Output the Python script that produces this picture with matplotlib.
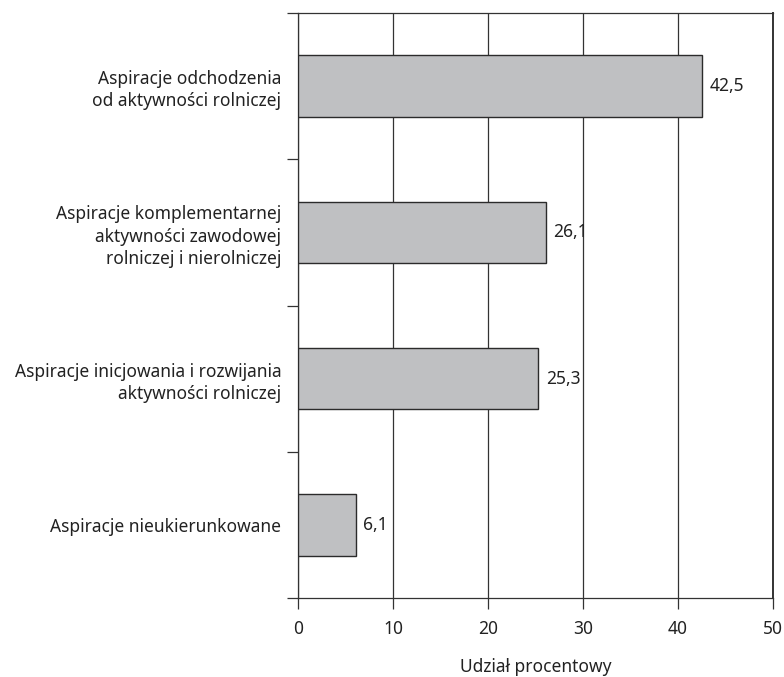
import matplotlib
matplotlib.use("Agg")
import matplotlib.pyplot as plt
import numpy as np

plt.rcParams["font.family"] = ["Noto Sans", "DejaVu Sans"]

CATEGORIES = [
    "Aspiracje odchodzenia\nod aktywności rolniczej",
    "Aspiracje komplementarnej\naktywności zawodowej\nrolniczej i nierolniczej",
    "Aspiracje inicjowania i rozwijania\naktywności rolniczej",
    "Aspiracje nieukierunkowane",
]
VALUES = [42.5, 26.1, 25.3, 6.1]
X_TICKS = [0, 10, 20, 30, 40, 50]
X_LABEL = "Udział procentowy"

BAR_COLOR = "#bfc0c2"
EDGE = "#2b2b2b"
FS = 12.5

fig = plt.figure(figsize=(7.84, 6.77), dpi=100)
ax = fig.add_axes([0.380, 0.1167, 0.606, 0.864])

pos = np.arange(len(CATEGORIES))
ax.barh(pos, VALUES, height=0.42, color=BAR_COLOR, edgecolor=EDGE, linewidth=1.0, zorder=3)

for p, v in zip(pos, VALUES):
    ax.text(v + 0.8, p, f"{v:.1f}".replace(".", ","), va="center", ha="left",
            fontsize=FS, color="#222222", zorder=4)

ax.set_xlim(0, 50)
ax.set_ylim(len(CATEGORIES) - 0.5, -0.5)
ax.set_xticks(X_TICKS)
ax.set_xticklabels([str(t) for t in X_TICKS], fontsize=FS, color="#222222")
ax.grid(axis="x", color="#333333", linewidth=0.9, zorder=0)

ax.set_yticks(np.arange(-0.5, len(CATEGORIES), 1.0))
ax.set_yticklabels([])
ax.set_yticks(pos, minor=True)
ax.set_yticklabels(CATEGORIES, minor=True, fontsize=FS, color="#222222",
                   linespacing=1.3, ha="right")
ax.tick_params(axis="y", which="minor", length=0, pad=12)
ax.tick_params(axis="y", which="major", length=8, width=0.9, color="#333333")
ax.tick_params(axis="x", length=8, width=0.9, color="#333333", pad=8)

for s in ax.spines.values():
    s.set_color("#333333")
    s.set_linewidth(0.9)
ax.spines["right"].set_linewidth(1.4)

# axis title sits well below the tick labels, as in the reference
fig.text(0.683, 1 - 667 / 677, X_LABEL, fontsize=FS, color="#222222",
         ha="center", va="center")

fig.savefig("out.png", dpi=100)
